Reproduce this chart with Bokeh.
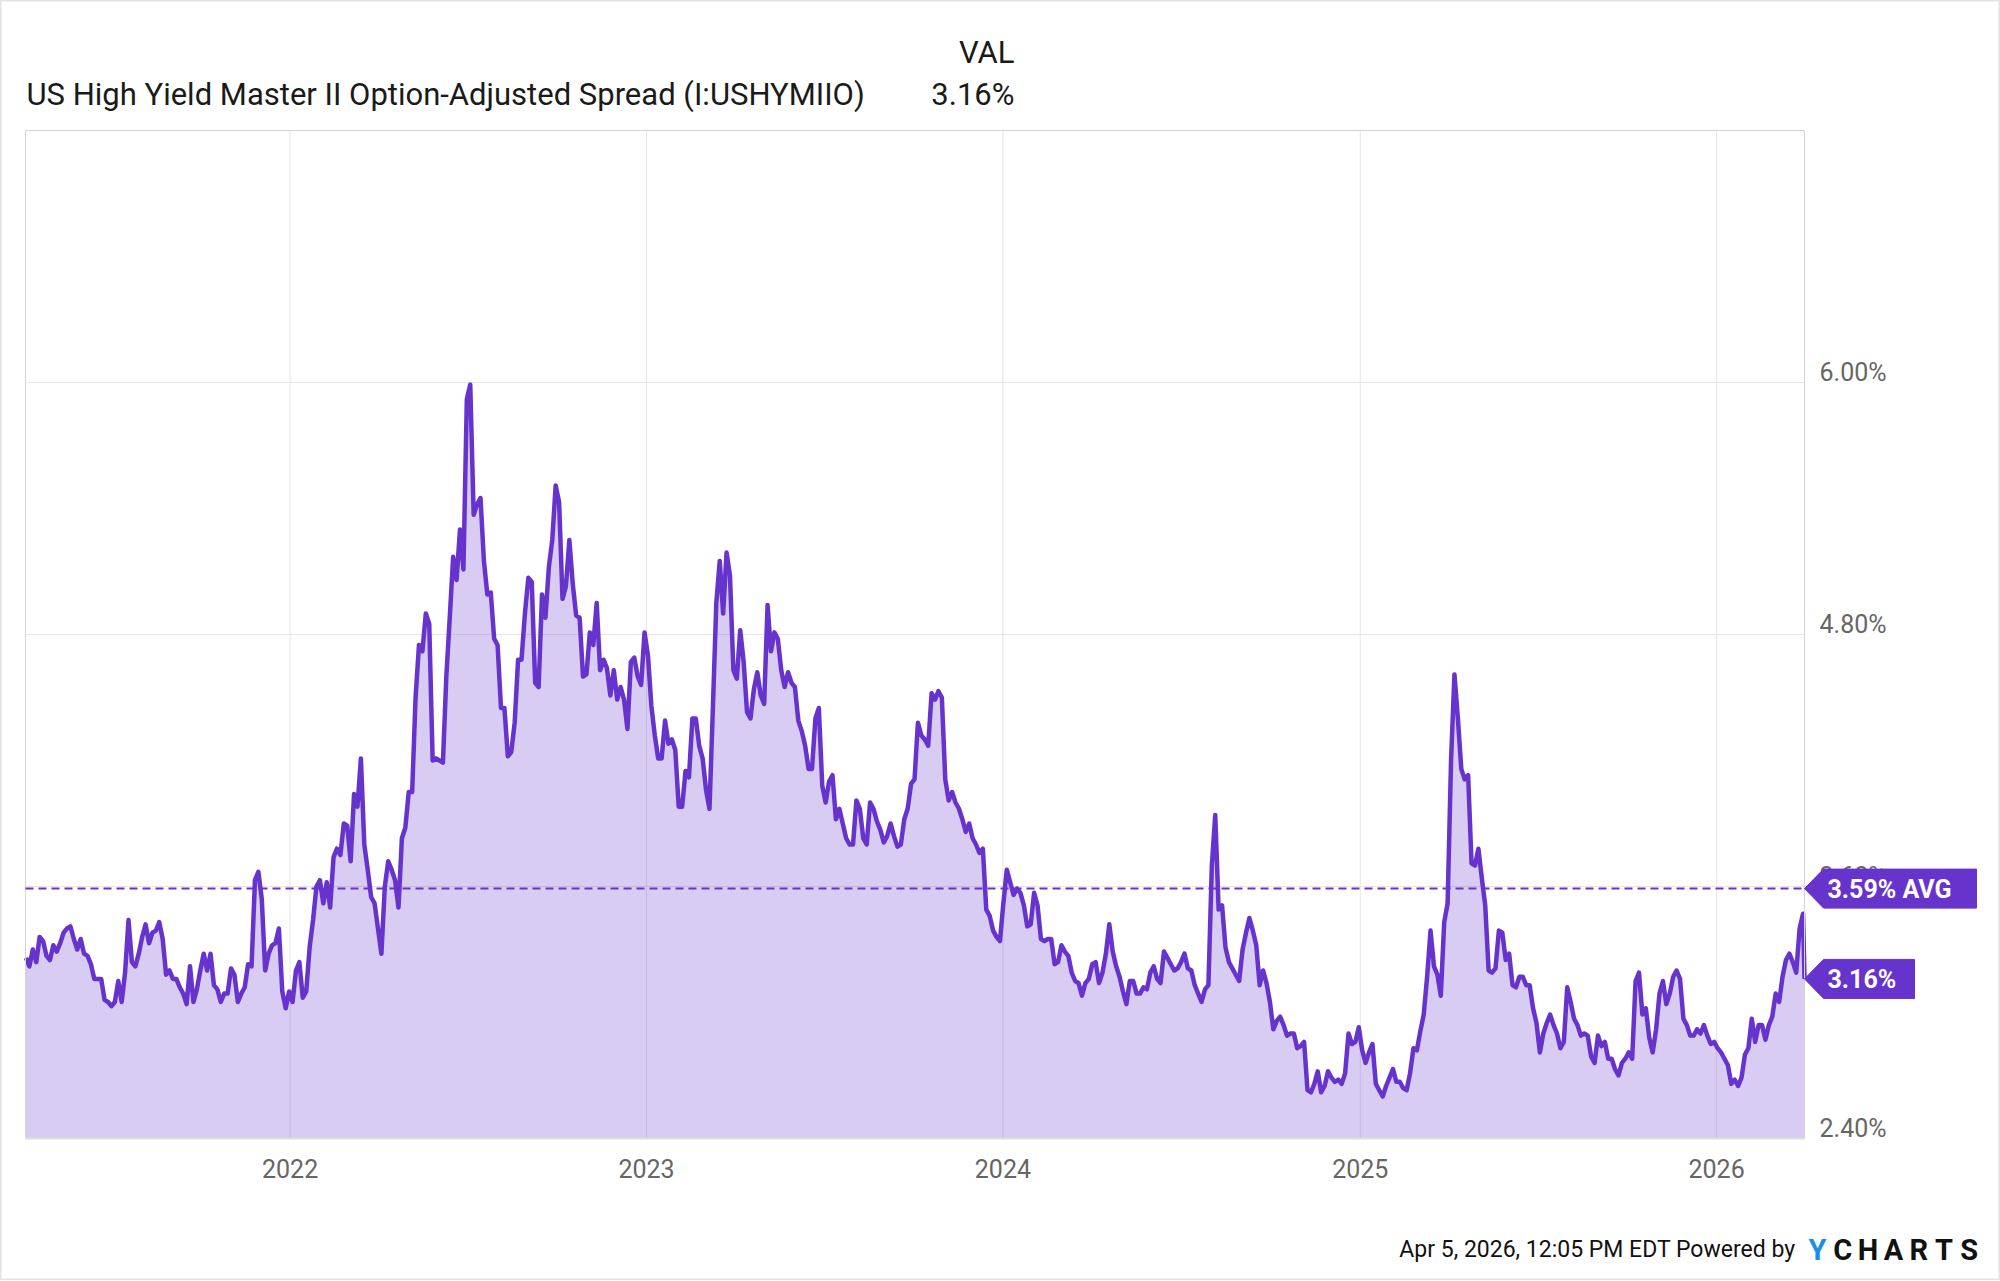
import pandas as pd
from bokeh.plotting import figure
from bokeh.models import Range1d
from bokeh.core.properties import value
from bokeh.embed import file_html
from bokeh.resources import INLINE

# ---------------- data (values in %) ----------------
title_text = "US High Yield Master II Option-Adjusted Spread (I:USHYMIIO)"
header_col = "VAL"
last_value = 3.16
last_date = "2026-04-01"
avg_value = 3.59

# semi-weekly readings (every 3.5 days) per period
seg_starts = ["2021-04-02", "2021-12-24", "2023-02-24", "2024-03-29", "2025-05-05 12:00"]

spread_apr21_dec21 = [
    3.25, 3.26, 3.22, 3.30, 3.24, 3.36, 3.34, 3.27, 3.25, 3.32,
    3.29, 3.33, 3.38, 3.40, 3.41, 3.35, 3.30, 3.35, 3.28, 3.27,
    3.23, 3.16, 3.16, 3.16, 3.06, 3.05, 3.03, 3.05, 3.15, 3.05,
    3.19, 3.44, 3.24, 3.22, 3.28, 3.36, 3.42, 3.33, 3.38, 3.39,
    3.43, 3.35, 3.18, 3.20, 3.16, 3.16, 3.12, 3.09, 3.04, 3.22,
    3.05, 3.11, 3.20, 3.28, 3.20, 3.28, 3.13, 3.11, 3.05, 3.09,
    3.09, 3.21, 3.18, 3.05, 3.09, 3.12, 3.23, 3.22, 3.63, 3.67,
    3.54, 3.20, 3.28, 3.32, 3.33, 3.40]

spread_dec21_feb23 = [
    3.10, 3.02, 3.10, 3.05, 3.20, 3.24, 3.07, 3.10, 3.31, 3.44,
    3.60, 3.63, 3.52, 3.62, 3.50, 3.74, 3.78, 3.75, 3.90, 3.89,
    3.72, 4.04, 3.98, 4.21, 3.80, 3.68, 3.55, 3.52, 3.40, 3.28,
    3.60, 3.72, 3.68, 3.63, 3.50, 3.83, 3.88, 4.05, 4.05, 4.50,
    4.75, 4.72, 4.90, 4.85, 4.20, 4.21, 4.20, 4.19, 4.60, 4.88,
    5.17, 5.06, 5.30, 5.11, 5.92, 5.99, 5.37, 5.42, 5.45, 5.15,
    4.99, 5.00, 4.78, 4.75, 4.45, 4.45, 4.22, 4.24, 4.38, 4.68,
    4.68, 4.90, 5.07, 5.05, 4.57, 4.55, 4.99, 4.88, 5.12, 5.25,
    5.51, 5.43, 4.97, 5.03, 5.25, 5.04, 4.89, 4.88, 4.60, 4.61,
    4.81, 4.75, 4.95, 4.63, 4.68, 4.64, 4.51, 4.63, 4.49, 4.55,
    4.49, 4.35, 4.67, 4.69, 4.60, 4.56, 4.81, 4.70, 4.46, 4.32,
    4.21, 4.21, 4.39, 4.28, 4.30, 4.25, 3.98, 3.98, 4.15, 4.12,
    4.40, 4.40]

spread_feb23_mar24 = [
    4.27, 4.21, 4.06, 3.97, 4.45, 4.95, 5.15, 4.90, 5.19, 5.08,
    4.63, 4.59, 4.82, 4.67, 4.43, 4.40, 4.54, 4.62, 4.51, 4.47,
    4.94, 4.72, 4.81, 4.78, 4.63, 4.55, 4.62, 4.57, 4.55, 4.39,
    4.34, 4.27, 4.16, 4.16, 4.40, 4.45, 4.08, 4.00, 4.10, 4.13,
    3.92, 3.97, 3.90, 3.83, 3.80, 3.80, 4.01, 3.97, 3.83, 3.80,
    4.00, 3.97, 3.91, 3.87, 3.81, 3.84, 3.90, 3.84, 3.79, 3.80,
    3.92, 3.97, 4.09, 4.11, 4.38, 4.32, 4.30, 4.27, 4.52, 4.49,
    4.53, 4.50, 4.11, 4.01, 4.05, 4.00, 3.97, 3.92, 3.86, 3.90,
    3.83, 3.80, 3.76, 3.78, 3.49, 3.46, 3.39, 3.36, 3.34, 3.52,
    3.68, 3.62, 3.56, 3.59, 3.57, 3.51, 3.41, 3.42, 3.57, 3.51,
    3.35, 3.34, 3.35, 3.35, 3.23, 3.24, 3.32, 3.29, 3.27, 3.19,
    3.15, 3.14, 3.08, 3.14]

spread_mar24_may25 = [
    3.16, 3.23, 3.24, 3.14, 3.19, 3.28, 3.42, 3.29, 3.22, 3.17,
    3.10, 3.04, 3.15, 3.15, 3.09, 3.09, 3.12, 3.11, 3.19, 3.22,
    3.16, 3.14, 3.29, 3.26, 3.23, 3.20, 3.21, 3.24, 3.28, 3.21,
    3.20, 3.13, 3.09, 3.05, 3.11, 3.13, 3.70, 3.94, 3.49, 3.51,
    3.31, 3.24, 3.21, 3.18, 3.15, 3.30, 3.38, 3.45, 3.39, 3.32,
    3.13, 3.20, 3.14, 3.05, 2.92, 2.96, 2.98, 2.94, 2.89, 2.90,
    2.90, 2.83, 2.84, 2.86, 2.63, 2.62, 2.66, 2.72, 2.62, 2.65,
    2.72, 2.69, 2.67, 2.68, 2.66, 2.71, 2.90, 2.85, 2.86, 2.93,
    2.82, 2.76, 2.81, 2.85, 2.66, 2.63, 2.60, 2.65, 2.69, 2.73,
    2.67, 2.67, 2.64, 2.63, 2.71, 2.83, 2.82, 2.91, 2.99, 3.17,
    3.39, 3.22, 3.18, 3.08, 3.43, 3.52, 4.20, 4.61, 4.40, 4.16,
    4.11, 4.13, 3.71, 3.70, 3.78]

spread_may25_mar26 = [
    3.64, 3.51, 3.20, 3.19, 3.21, 3.39, 3.38, 3.25, 3.28, 3.13,
    3.12, 3.17, 3.17, 3.13, 3.13, 3.02, 2.95, 2.81, 2.90, 2.95,
    2.99, 2.94, 2.90, 2.83, 2.86, 3.12, 3.05, 2.97, 2.94, 2.89,
    2.90, 2.89, 2.79, 2.76, 2.89, 2.84, 2.86, 2.78, 2.78, 2.73,
    2.70, 2.76, 2.78, 2.81, 2.78, 3.15, 3.19, 2.99, 3.02, 2.88,
    2.81, 2.92, 3.09, 3.15, 3.04, 3.09, 3.17, 3.20, 3.16, 2.97,
    2.94, 2.89, 2.89, 2.92, 2.90, 2.94, 2.89, 2.85, 2.86, 2.83,
    2.81, 2.78, 2.75, 2.66, 2.68, 2.65, 2.69, 2.80, 2.83, 2.97,
    2.86, 2.94, 2.94, 2.87, 2.94, 2.98, 3.09, 3.05, 3.17, 3.25,
    3.28, 3.24, 3.19, 3.40, 3.47]

year_ticks = [2022, 2023, 2024, 2025, 2026]
y_ticks = [2.4, 3.6, 4.8, 6.0]
y_tick_labels = ["2.40%", "3.60%", "4.80%", "6.00%"]
footer_text = "Apr 5, 2026, 12:05 PM EDT Powered by"
logo_letters = ["Y", "C", "H", "A", "R", "T", "S"]

# ---------------- assemble series ----------------
x_start = pd.Timestamp("2021-04-05")
x_end = pd.Timestamp(last_date)
y_min, y_max = 2.4, 7.2

step = pd.Timedelta(hours=84)
segments = [spread_apr21_dec21, spread_dec21_feb23, spread_feb23_mar24,
            spread_mar24_may25, spread_may25_mar26]
dates, values = [], []
for start, seg in zip(seg_starts, segments):
    s = pd.Timestamp(start)
    for k, v in enumerate(seg):
        d = s + k * step
        if d >= x_start:
            dates.append(d)
            values.append(v)
dates.append(pd.Timestamp(last_date))
values.append(last_value)

# ---------------- layout: one canvas, plot area placed inside ----------------
W, H = 2000, 1280
L, R, T, B = 25, 1804, 130, 1138          # plot area in page pixels
FW, FH = R - L, B - T

xs_ms = x_start.timestamp() * 1000
xe_ms = x_end.timestamp() * 1000
mpp = (xe_ms - xs_ms) / FW                 # ms per pixel
vpp = (y_max - y_min) / FH                 # value per pixel

PURPLE = "#6633cc"
GRID = "#e6e6e6"
TICK_COLOR = "#666666"
FONT = "Roboto"

p = figure(x_axis_type="datetime",
           x_range=Range1d(xs_ms - L * mpp, xe_ms + (W - R) * mpp),
           y_range=Range1d(y_min - (H - B) * vpp, y_max + T * vpp),
           frame_width=W, frame_height=H, min_border=0,
           x_axis_location=None, y_axis_location=None,
           output_backend="svg", toolbar_location=None,
           background_fill_color="white", border_fill_color="white")
p.grid.visible = False
p.outline_line_color = "#e2e2e2"
p.outline_line_width = 2

year_dates = [pd.Timestamp(f"{y}-01-01") for y in year_ticks]

# grid lines restricted to the plot area
p.segment(x0=year_dates, y0=[y_min] * len(year_dates), x1=year_dates,
          y1=[y_max] * len(year_dates), line_color=GRID, line_width=1)
p.segment(x0=[x_start] * len(y_ticks), y0=y_ticks, x1=[x_end] * len(y_ticks),
          y1=y_ticks, line_color=GRID, line_width=1)

# series
p.varea(x=dates, y1=y_min, y2=values, fill_color=PURPLE, fill_alpha=0.25)
p.line(dates, values, line_color=PURPLE, line_width=4.5, line_join="round")

# plot area frame: left/top/right light, bottom axis line
p.segment(x0=[x_start, x_start, x_end], y0=[y_min, y_max, y_min],
          x1=[x_start, x_end, x_end], y1=[y_max, y_max, y_max],
          line_color="#d4d4d4", line_width=1)
p.segment(x0=[x_start], y0=[y_min], x1=[x_end], y1=[y_min],
          line_color="#dddddd", line_width=2)

# average line
p.line([x_start, x_end], [avg_value, avg_value], line_color=PURPLE,
       line_width=2, line_dash="8 5")

# x tick labels
p.text(x=year_dates, y=[y_min] * len(year_dates), text=[str(y) for y in year_ticks],
       y_offset=30, text_font=value(FONT), text_font_size=value("25px"),
       text_color=TICK_COLOR, text_align="center", text_baseline="alphabetic")

# y tick labels, sitting just above their grid lines, right of the plot
p.text(x=[x_end] * len(y_ticks), y=y_ticks, text=y_tick_labels,
       x_offset=15, y_offset=-10, text_font=value(FONT), text_font_size=value("25px"),
       text_color=TICK_COLOR, text_align="left", text_baseline="alphabetic")

# badges
def badge(yv, width_px, text):
    h = 19.5 * vpp
    xs = [xe_ms, xe_ms + 19 * mpp, xe_ms + width_px * mpp,
          xe_ms + width_px * mpp, xe_ms + 19 * mpp]
    ys = [yv, yv + h, yv + h, yv - h, yv - h]
    p.patch(xs, ys, fill_color=PURPLE, line_color=PURPLE, line_width=1)
    p.text(x=[xe_ms], y=[yv], text=[text], x_offset=23, y_offset=1,
           text_font=value(FONT), text_font_size=value("25px"),
           text_font_style="bold", text_color="white",
           text_align="left", text_baseline="middle")

badge(avg_value, 172, f"{avg_value:.2f}% AVG")
badge(last_value, 110, f"{last_value:.2f}%")

# header
HEAD = "#1a1a1a"
p.text(x=[xs_ms], y=[y_max], text=[title_text], x_offset=1, y_offset=-36,
       text_font=value(FONT), text_font_size=value("31px"), text_color=HEAD,
       text_align="left", text_baseline="alphabetic")
p.text(x=[xs_ms, xs_ms], y=[y_max, y_max], text=[header_col, f"{last_value:.2f}%"],
       x_offset=989, y_offset=[-78, -36],
       text_font=value(FONT), text_font_size=value("31px"), text_color=HEAD,
       text_align="right", text_baseline="alphabetic")

# footer
p.text(x=[xe_ms], y=[y_min], text=[footer_text], x_offset=-9, y_offset=111,
       text_font=value(FONT), text_font_size=value("23px"), text_color="#111111",
       text_align="right", text_baseline="alphabetic")
p.text(x=[xe_ms] * len(logo_letters), y=[y_min] * len(logo_letters), text=logo_letters,
       x_offset=[13 + 25.3 * k for k in range(len(logo_letters))], y_offset=111,
       text_font=value(FONT), text_font_size=value("29px"), text_font_style="bold",
       text_color=["#1b8ee6"] + ["#111111"] * (len(logo_letters) - 1),
       text_align="center", text_baseline="alphabetic")

open("out.html", "w").write(file_html(p, INLINE))
